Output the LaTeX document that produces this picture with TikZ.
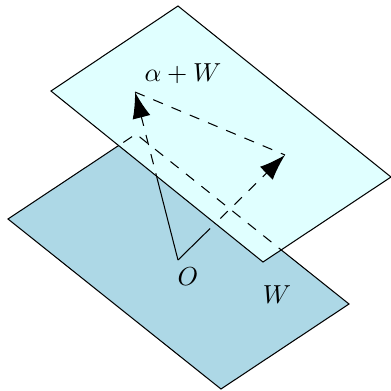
\documentclass[tikz,border=0pt]{standalone}
\usetikzlibrary{arrows.meta, calc}
\definecolor{lowplane}{RGB}{173,216,230}
\definecolor{highplane}{RGB}{224,255,255}
\tikzset{
    plane/.style={draw=black, thin},
    vec/.style={-{Latex[length=10pt,width=7pt]}, thin},
    hidden/.style={dash pattern=on 4pt off 3.6pt, thin}
}

\begin{document}
\begin{tikzpicture}[x=0.0135cm, y=-0.0135cm]
	\useasboundingbox (0,0) rectangle (391,391);
	
	% --- EBENE W ---
	\coordinate (wl) at (8,219);
	\coordinate (wt) at (136,134);
	\coordinate (wr) at (349,304);
	\coordinate (wb) at (221,389);
	
	% --- EBENE alpha + W ---
	\coordinate (ul) at (51,91);
	\coordinate (ut) at (178,6);
	\coordinate (ur) at (391,177);
	\coordinate (ub) at (263,262);
	
	% --- VEKTOREN ---
	\coordinate (O) at (178,260);
	\coordinate (A) at (135,92);
	\coordinate (B) at (285,155);
	\coordinate (Bs) at ($(O)!0.30!(B)$);
	
	\filldraw[plane, fill=lowplane] (wl) -- (wt) -- (wr) -- (wb) -- cycle;
	\draw[thin] (O) -- (A);
	\draw[thin] (O) -- (Bs);
	\filldraw[plane, fill=highplane] (ul) -- (ut) -- (ur) -- (ub) -- cycle;
	
	% verdeckte Teile gestrichelt
	\begin{scope}
		\clip (ul) -- (ut) -- (ur) -- (ub) -- cycle;
		\draw[hidden] (wl) -- (wt) -- (wr);
		\draw[hidden, vec] (O) -- (A);
		\draw[hidden, vec] (O) -- (B);
		\draw[hidden] (A) -- (B);
	\end{scope}
	
	% --- BESCHRIFTUNG ---
	\node (lblaw) at (183,74) {$\alpha+W$};
	\node (lblo) at (188,277) {$O$};
	\node (lblw) at (277,295) {$W$};
	
\end{tikzpicture}
\end{document}
